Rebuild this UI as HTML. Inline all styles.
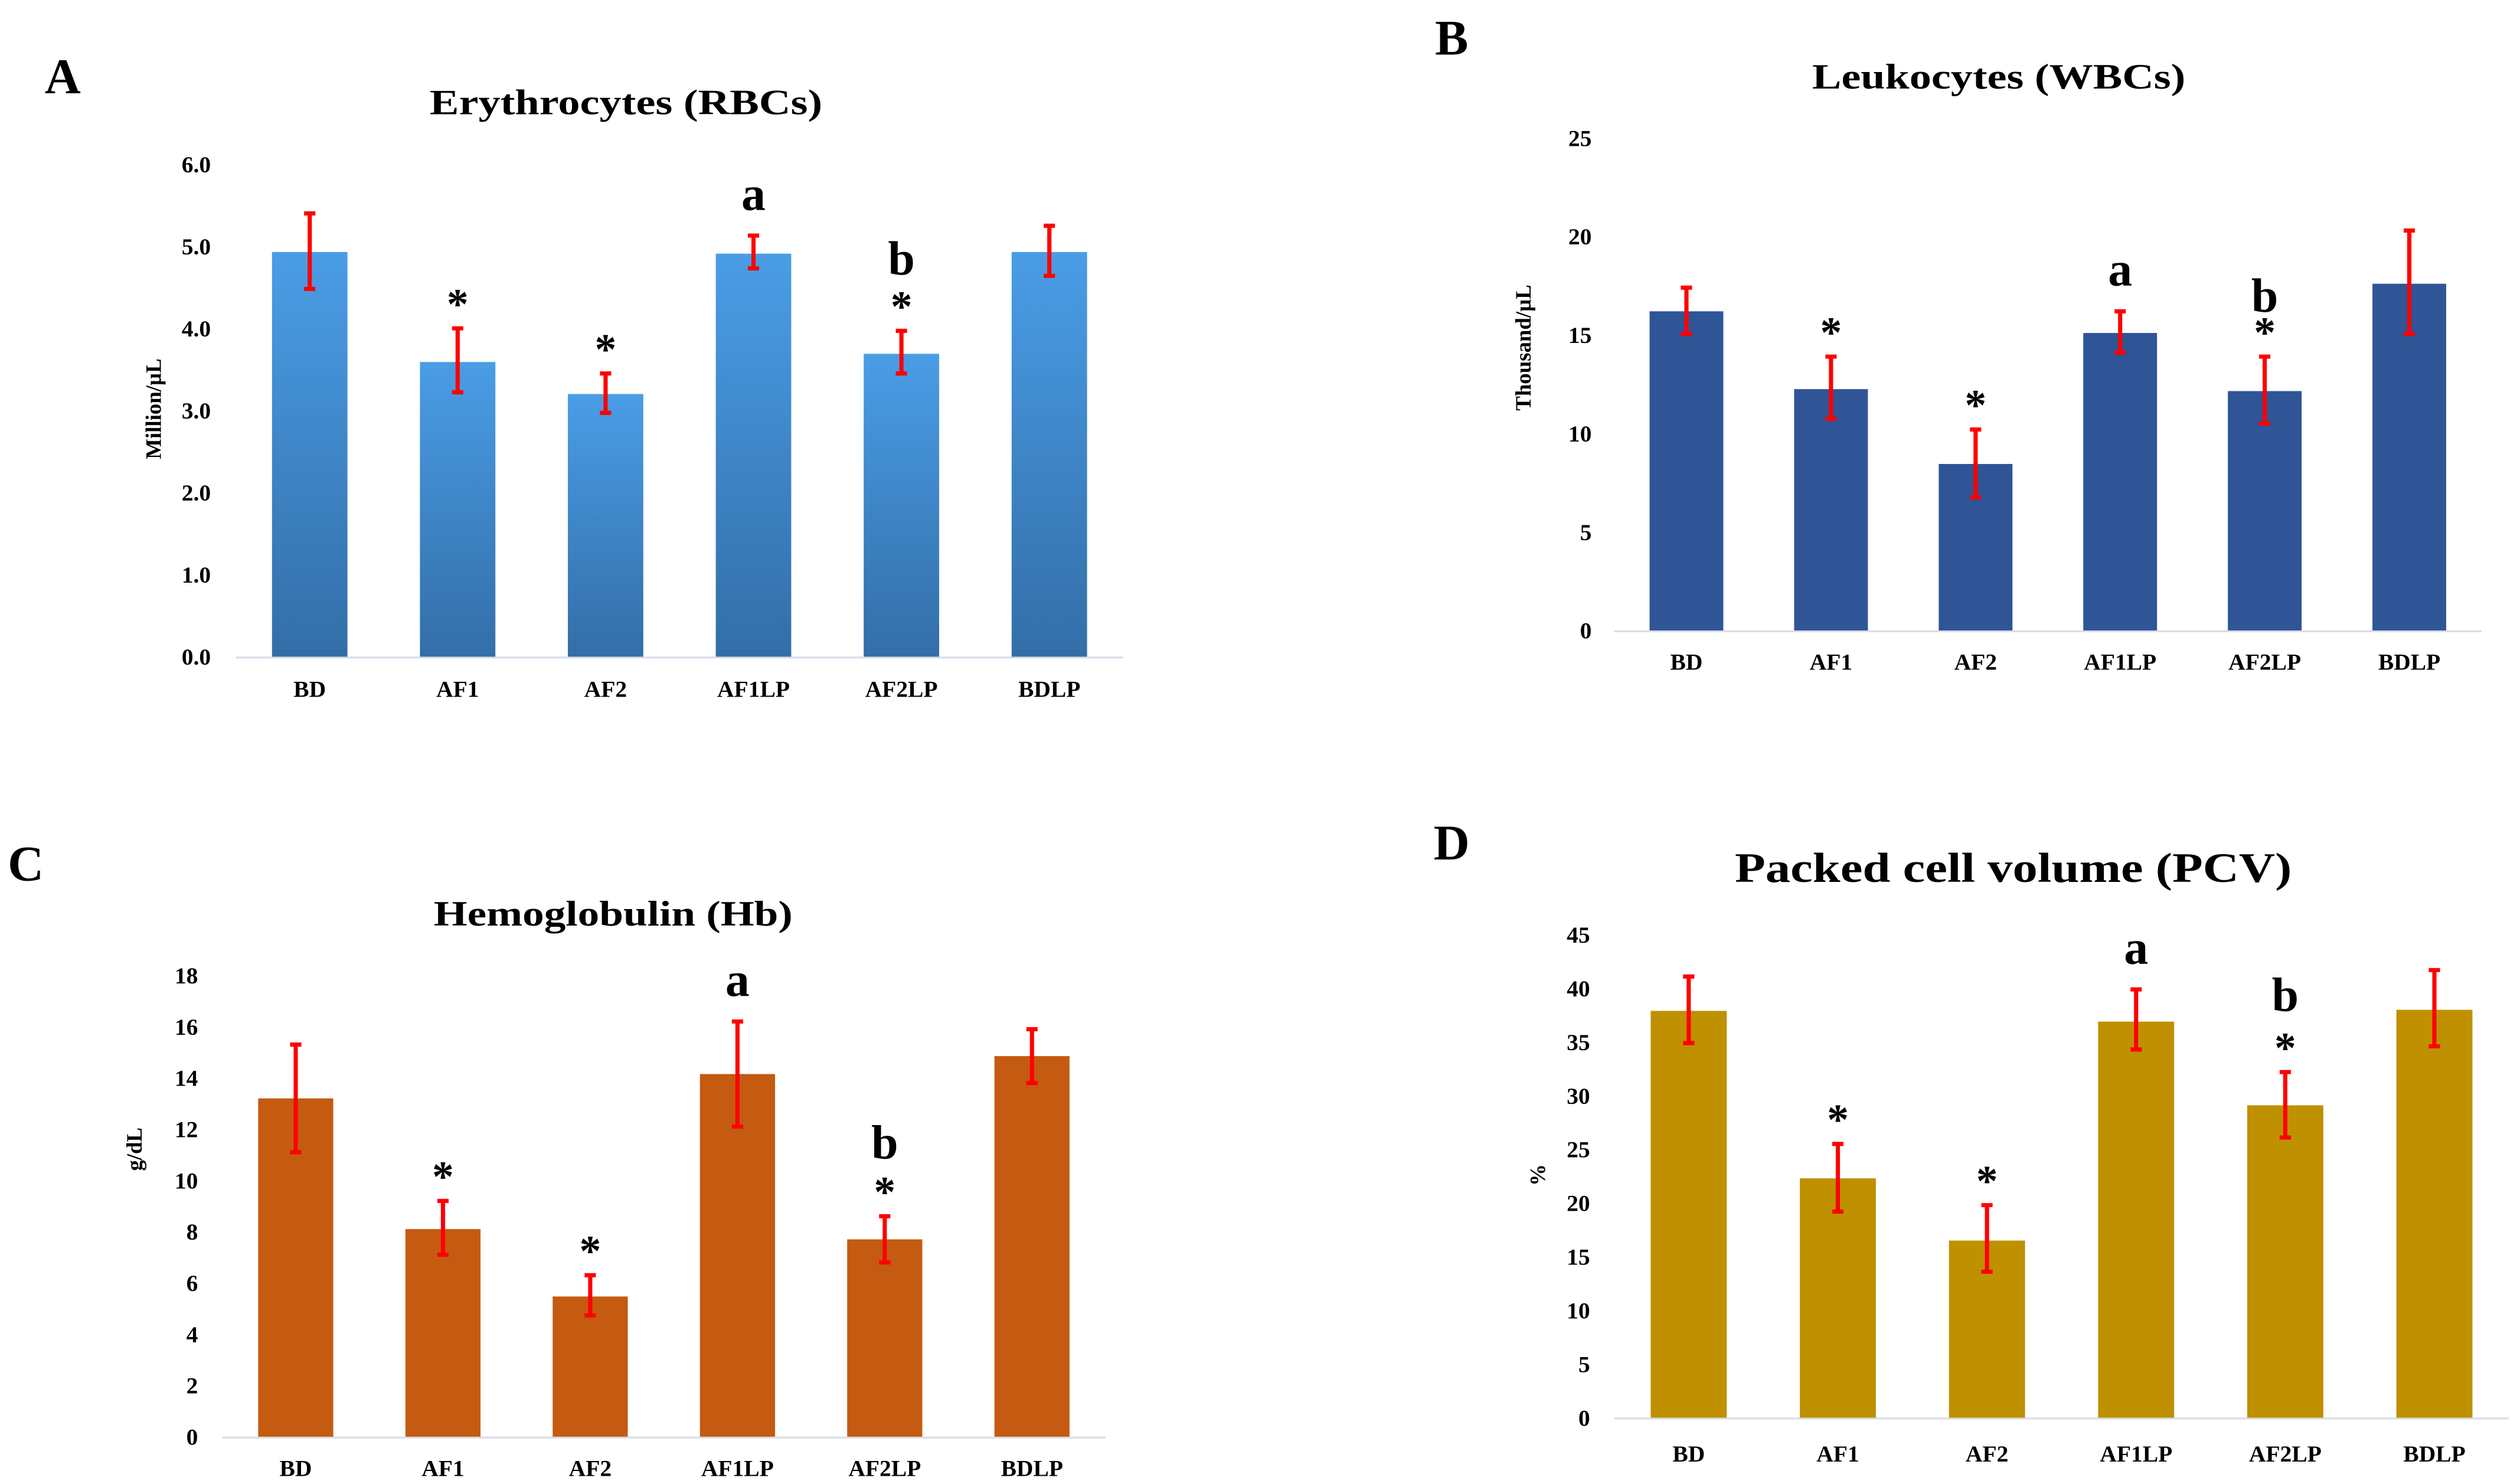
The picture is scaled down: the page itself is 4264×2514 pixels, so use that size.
<!DOCTYPE html>
<html><head><meta charset="utf-8"><style>
html,body{margin:0;padding:0;background:#fff;}
svg{display:block;}
text{font-family:"Liberation Serif",serif;font-weight:bold;fill:#000;}
</style></head><body>
<svg id="fig" width="4264" height="2514" viewBox="0 0 1564 922" preserveAspectRatio="none" xmlns="http://www.w3.org/2000/svg">
<defs>
<linearGradient id="gA" x1="0" y1="0" x2="0" y2="1"><stop offset="0" stop-color="#4a9de6"/><stop offset="1" stop-color="#336ea8"/></linearGradient>
</defs>
</svg>
<script>
const categories = ["BD","AF1","AF2","AF1LP","AF2LP","BDLP"];
const rbcValues = [4.93,3.59,3.20,4.91,3.69,4.93];
const rbcErrHigh = [5.40,4.00,3.45,5.13,3.97,5.25];
const rbcErrLow = [4.48,3.22,2.97,4.73,3.45,4.64];
const rbcTicks = ["0.0","1.0","2.0","3.0","4.0","5.0","6.0"];
const wbcValues = [16.2,12.25,8.45,15.1,12.15,17.6];
const wbcErrHigh = [17.4,13.9,10.2,16.2,13.9,20.3];
const wbcErrLow = [15.05,10.75,6.76,14.1,10.5,15.05];
const wbcTicks = ["0","5","10","15","20","25"];
const hbValues = [13.2,8.1,5.47,14.15,7.7,14.85];
const hbErrHigh = [15.3,9.2,6.3,16.2,8.6,15.9];
const hbErrLow = [11.1,7.1,4.73,12.1,6.8,13.8];
const hbTicks = ["0","2","4","6","8","10","12","14","16","18"];
const pcvValues = [37.9,22.3,16.5,36.9,29.1,38.0];
const pcvErrHigh = [41.1,25.5,19.8,39.9,32.2,41.7];
const pcvErrLow = [34.9,19.2,13.6,34.3,26.1,34.6];
const pcvTicks = ["0","5","10","15","20","25","30","35","40","45"];
const rbcMarks = ["","*","*","a","*b",""];
const wbcMarks = ["","*","*","a","*b",""];
const hbMarks = ["","*","*","a","*b",""];
const pcvMarks = ["","*","*","a","*b",""];

const NS="http://www.w3.org/2000/svg";
const svg=document.getElementById('fig');
function mk(tag,attrs,parent){const e=document.createElementNS(NS,tag);for(const k in attrs)e.setAttribute(k,attrs[k]);(parent||svg).appendChild(e);return e;}

function panel(cfg){
  const g=mk('g',{});
  
  
  const L=mk('text',{x:cfg.letterX,y:cfg.letterY,'font-size':31,'text-anchor':'middle'},g);L.textContent=cfg.letter;
  
  
  const T=mk('text',{x:cfg.titleX,y:cfg.titleY,'font-size':cfg.titleSize,'text-anchor':'middle',textLength:cfg.titleW,lengthAdjust:'spacingAndGlyphs'},g);T.textContent=cfg.title;
  
  
  const ymax=cfg.max;
  const yS=v=>cfg.y0-(v/ymax)*(cfg.y0-cfg.yTop);
  const n=categories.length, band=(cfg.x1-cfg.x0)/n;
  const xC=i=>cfg.x0+band*(i+0.5);
  cfg.ticks.forEach((t,i)=>{
    const v=parseFloat(t);
    const tx=mk('text',{x:cfg.tickX,y:yS(v)+5,'font-size':14.5,'text-anchor':'end'},g);tx.textContent=t;
    
    
  });
  const ax=mk('line',{x1:cfg.x0,y1:cfg.y0+0.5,x2:cfg.x1,y2:cfg.y0+0.5,stroke:'#d9dee8','stroke-width':1.2},g);
  
  
  const yl=mk('text',{x:0,y:0,'font-size':13.5,'text-anchor':'middle',transform:`translate(${cfg.ylabX},${cfg.ylabY}) rotate(-90)`},g);yl.textContent=cfg.ylab;
  
  
  const bw=band*0.51;
  categories.forEach((c,i)=>{
    const v=cfg.vals[i], top=yS(v);
    const b=mk('rect',{x:xC(i)-bw/2,y:top,width:bw,height:cfg.y0-top,fill:cfg.color},g);
    
    
    const hi=yS(cfg.hi[i]), lo=yS(cfg.lo[i]);
    const eb=mk('path',{d:`M${xC(i)},${hi}V${lo}M${xC(i)-3.5},${hi}H${xC(i)+3.5}M${xC(i)-3.5},${lo}H${xC(i)+3.5}`,stroke:'#ff0000','stroke-width':2.6,fill:'none'},g);
    
    
    const lb=mk('text',{x:xC(i),y:cfg.labY,'font-size':14.5,'text-anchor':'middle'},g);lb.textContent=c;
    
    
    const m=cfg.marks[i];
    if(m.includes('*')){
      const s=mk('text',{x:xC(i),y:hi-cfg.starGap,'font-size':27,'text-anchor':'middle'},g);s.textContent='*';
      
      
    }
    if(m.includes('a')||m.includes('b')){
      const letter=m.includes('a')?'a':'b';
      const yy=m.includes('*')?hi-cfg.starGap-cfg.bGap:hi-cfg.aGap;
      const s=mk('text',{x:xC(i),y:yy,'font-size':30,'text-anchor':'middle'},g);s.textContent=letter;
      
      
    }
  });
}
panel({name:'panel-a-rbc',letter:'A',letterX:39,letterY:58,title:'Erythrocytes (RBCs)',titleX:389,titleY:71,titleW:244,titleSize:22,
  x0:146.5,x1:698,y0:408,yTop:102,max:6,ticks:rbcTicks,tickX:131,vals:rbcValues,hi:rbcErrHigh,lo:rbcErrLow,color:'url(#gA)',
  ylab:'Million/µL',ylabX:100,ylabY:254,labY:433,marks:rbcMarks,starGap:6,bGap:29,aGap:16});
panel({name:'panel-b-wbc',letter:'B',letterX:902,letterY:34,title:'Leukocytes (WBCs)',titleX:1242,titleY:55,titleW:232,titleSize:22,
  x0:1003,x1:1542,y0:391.7,yTop:85.7,max:25,ticks:wbcTicks,tickX:989,vals:wbcValues,hi:wbcErrHigh,lo:wbcErrLow,color:'#2f5597',
  ylab:'Thousand/µL',ylabX:951,ylabY:216,labY:416,marks:wbcMarks,starGap:6,bGap:22,aGap:16});
panel({name:'panel-c-hb',letter:'C',letterX:16,letterY:547,title:'Hemoglobulin (Hb)',titleX:381,titleY:575,titleW:223,titleSize:22,
  x0:138,x1:687,y0:892.6,yTop:606,max:18,ticks:hbTicks,tickX:123,vals:hbValues,hi:hbErrHigh,lo:hbErrLow,color:'#c55a11',
  ylab:'g/dL',ylabX:88,ylabY:714,labY:917,marks:hbMarks,starGap:6,bGap:30,aGap:16});
panel({name:'panel-d-pcv',letter:'D',letterX:902,letterY:534,title:'Packed cell volume (PCV)',titleX:1251,titleY:548,titleW:346,titleSize:26,
  x0:1003,x1:1559,y0:880.8,yTop:580.7,max:45,ticks:pcvTicks,tickX:988,vals:pcvValues,hi:pcvErrHigh,lo:pcvErrLow,color:'#bf9000',
  ylab:'%',ylabX:960,ylabY:730,labY:908,marks:pcvMarks,starGap:6,bGap:32,aGap:16});
</script>
</body></html>
